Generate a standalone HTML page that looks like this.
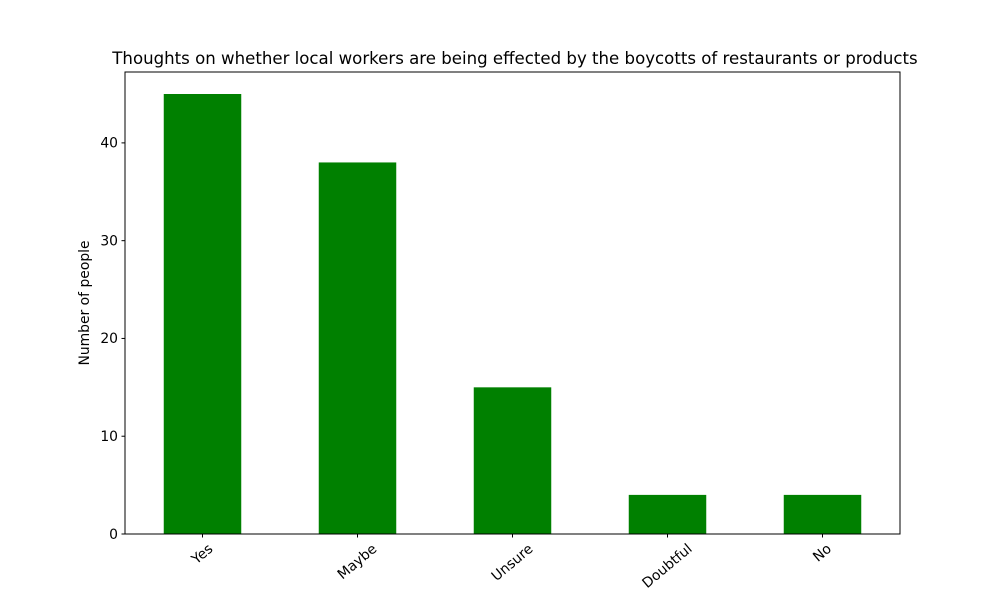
<!DOCTYPE html>
<html><head><meta charset="utf-8"><style>
html,body{margin:0;padding:0;background:#fff;}
svg{display:block;font-family:"DejaVu Sans","Liberation Sans",sans-serif;}
</style></head><body>
<svg id="chart" width="1000" height="600">
<text x="515" y="64" text-anchor="middle" font-size="16.6" fill="#000">Thoughts on whether local workers are being effected by the boycotts of restaurants or products</text>
<text transform="translate(89,303) rotate(-90)" text-anchor="middle" font-size="13.9" fill="#000">Number of people</text>
<g id="bars"></g>
<g id="yticks"></g>
<g id="xticks"></g>
<rect x="125" y="72" width="775" height="462" fill="none" stroke="#000" stroke-width="1"/>
</svg>
<script>
const categories = ["Yes","Maybe","Unsure","Doubtful","No"];
const values = [45,38,15,4,4];
const yTicks = [0,10,20,30,40];
const NS="http://www.w3.org/2000/svg";
const L=125,R=900,T=72,B=534;
const yMax=Math.max(...values)*1.05;
const y=v=>B-(v/yMax)*(B-T);
const x=i=>L+(i+0.5)*(R-L)/categories.length;
const bw=0.5*(R-L)/categories.length;
const bars=document.getElementById('bars');
values.forEach((v,i)=>{
 const r=document.createElementNS(NS,'rect');
 r.setAttribute('x',x(i)-bw/2);r.setAttribute('y',y(v));
 r.setAttribute('width',bw);r.setAttribute('height',B-y(v));
 r.setAttribute('fill','#008000');
 
 
 bars.appendChild(r);
});
const yt=document.getElementById('yticks');
yTicks.forEach(t=>{
 const l=document.createElementNS(NS,'line');
 l.setAttribute('x1',L-3.5);l.setAttribute('x2',L);l.setAttribute('y1',y(t));l.setAttribute('y2',y(t));
 l.setAttribute('stroke','#000');
 
 
 yt.appendChild(l);
 const s=document.createElementNS(NS,'text');
 s.setAttribute('x',L-7);s.setAttribute('y',y(t)+4.8);s.setAttribute('text-anchor','end');
 s.setAttribute('font-size','13.9');s.textContent=t;
 
 
 yt.appendChild(s);
});
const xt=document.getElementById('xticks');
categories.forEach((c,i)=>{
 const l=document.createElementNS(NS,'line');
 l.setAttribute('x1',x(i));l.setAttribute('x2',x(i));l.setAttribute('y1',B);l.setAttribute('y2',B+3.5);
 l.setAttribute('stroke','#000');
 
 
 xt.appendChild(l);
 const s=document.createElementNS(NS,'text');
 s.setAttribute('font-size','13.9');s.setAttribute('text-anchor','middle');
 s.setAttribute('dominant-baseline','central');
 s.textContent=c;
 
 
 xt.appendChild(s);
 const w=s.getComputedTextLength();
 const a=40*Math.PI/180;
 const bh=w*Math.sin(a)+16*Math.cos(a);
 const cy=B+3.5+3.5+bh/2;
 s.setAttribute('transform','translate('+x(i)+','+cy+') rotate(-40)');
});
</script>
</body></html>
